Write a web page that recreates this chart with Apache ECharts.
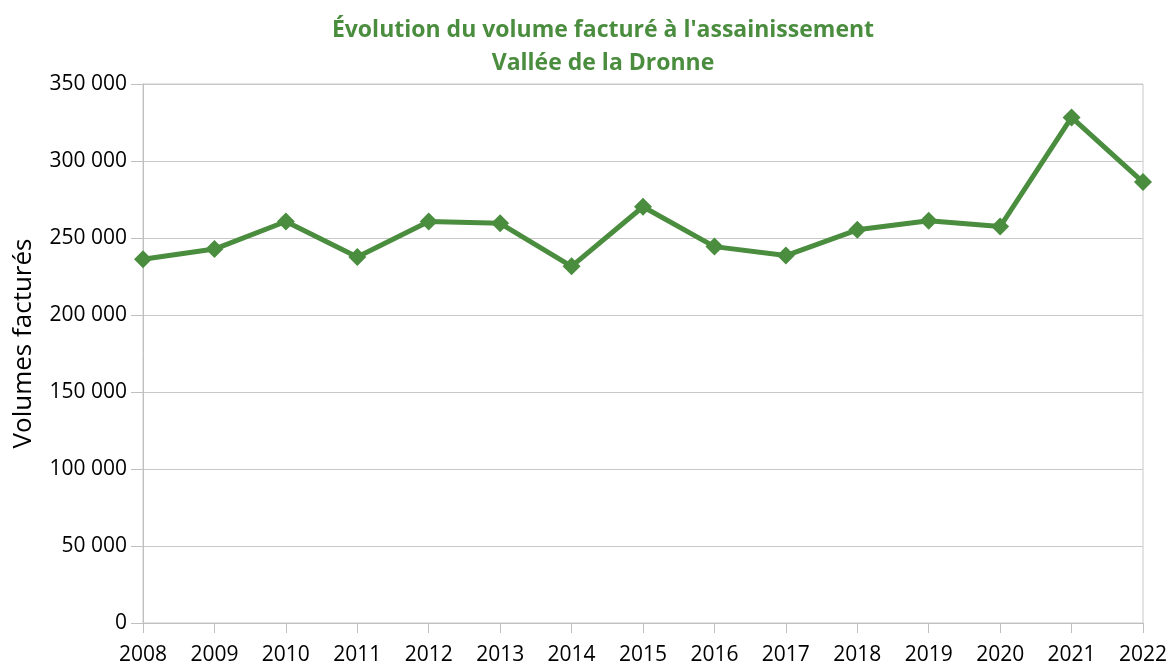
<!DOCTYPE html>
<html><head><meta charset="utf-8">
<script src="https://cdn.jsdelivr.net/npm/echarts@6/dist/echarts.min.js"></script>
<style>html,body{margin:0;padding:0;background:#fff}#c{width:1171px;height:666px}</style>
</head><body><div id="c"></div>
<script>
const years = ['2008','2009','2010','2011','2012','2013','2014','2015','2016','2017','2018','2019','2020','2021','2022'];
const volumes = [236200, 242800, 260700, 237600, 260700, 259500, 231600, 270300, 244400, 238600, 255300, 261200, 257400, 328300, 286300];
const titleLines = ["Évolution du volume facturé à l'assainissement", 'Vallée de la Dronne'];
const yAxisName = 'Volumes facturés';

const green = '#4b8d3f';
const chart = echarts.init(document.getElementById('c'));
chart.setOption({
  animation: false,
  title: {
    text: titleLines.join('\n'),
    left: 598, top: 9, textAlign: 'center',
    textStyle: { color: green, fontFamily: 'Open Sans', fontWeight: 'bold', fontSize: 23, lineHeight: 33 }
  },
  grid: { left: 143, right: 28, top: 84, bottom: 43, show: true, borderColor: '#c8c8c8', borderWidth: 1, outerBoundsMode: 'none', containLabel: false },
  xAxis: {
    type: 'category', data: years, boundaryGap: false,
    axisLine: { lineStyle: { color: '#c0c0c0', width: 1 } },
    axisTick: { show: true, length: 10, lineStyle: { color: '#c0c0c0' } },
    axisLabel: { color: '#000', fontFamily: 'Open Sans', fontSize: 21, margin: 22 }
  },
  yAxis: {
    type: 'value', min: 0, max: 350000, interval: 50000,
    name: yAxisName, nameLocation: 'middle', nameGap: 106,
    nameTextStyle: { color: '#000', fontFamily: 'Open Sans', fontSize: 26, padding: [0, 0, 0, 20] },
    axisLine: { show: true, lineStyle: { color: '#c0c0c0' } },
    axisTick: { show: true, length: 12, lineStyle: { color: '#c0c0c0' } },
    splitLine: { lineStyle: { color: '#c8c8c8', width: 1 } },
    axisLabel: {
      color: '#000', fontFamily: 'Open Sans', fontSize: 21, margin: 16,
      formatter: v => v === 0 ? '0' : String(v).replace(/\B(?=(\d{3})+(?!\d))/g, ' ')
    }
  },
  series: [{
    type: 'line', data: volumes,
    symbol: 'diamond', symbolSize: 18,
    lineStyle: { color: green, width: 5 },
    itemStyle: { color: green }
  }]
});
</script></body></html>
